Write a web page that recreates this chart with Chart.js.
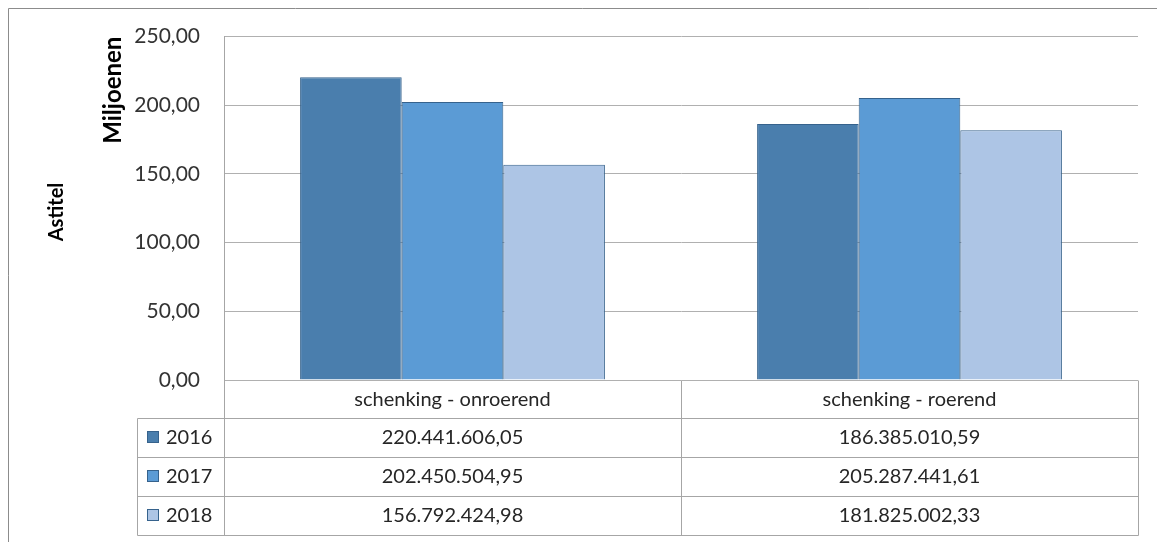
<!DOCTYPE html>
<html>
<head>
<meta charset="utf-8">
<script src="https://cdn.jsdelivr.net/npm/chart.js@4"></script>
<style>
html, body { margin: 0; padding: 0; background: #fff; }
#wrap { width: 1157px; height: 542px; }
</style>
</head>
<body>
<div id="wrap"><canvas id="barChart" width="1157" height="542"></canvas></div>
<script>
// Categorieën, jaren en bedragen (in euro)
let categories = ['schenking - onroerend', 'schenking - roerend'];
let years = ['2016', '2017', '2018'];
let values2016 = [220441606.05, 186385010.59];
let values2017 = [202450504.95, 205287441.61];
let values2018 = [156792424.98, 181825002.33];
let yTicks = [0, 50, 100, 150, 200, 250];

let seriesValues = [values2016, values2017, values2018];
let seriesColors = ['#4A7EAD', '#5B9BD5', '#ADC5E5'];
let barBorder = '#36628C';
let textColor = '#262626';

// Getal opmaken als 220.441.606,05
function formatNl(v, decimals) {
  let parts = v.toFixed(decimals).split('.');
  parts[0] = parts[0].replace(/\B(?=(\d{3})+(?!\d))/g, '.');
  return parts.join(',');
}

// Rand rondom de grafiek en de astitel links
let framePlugin = {
  id: 'frame',
  beforeDraw(chart) {
    let ctx = chart.ctx;
    ctx.save();
    ctx.strokeStyle = '#8c8c8c';
    ctx.lineWidth = 1;
    ctx.beginPath();
    ctx.moveTo(8.5, 542);
    ctx.lineTo(8.5, 8.5);
    ctx.lineTo(1157, 8.5);
    ctx.stroke();

    ctx.translate(57, 212);
    ctx.rotate(-Math.PI / 2);
    ctx.fillStyle = '#000';
    ctx.font = 'bold 20px Lato';
    ctx.textAlign = 'center';
    ctx.textBaseline = 'middle';
    ctx.fillText('Astitel', 0, 0);
    ctx.restore();
  }
};

// Gegevenstabel onder de x-as
let tablePlugin = {
  id: 'dataTable',
  afterDraw(chart) {
    let { ctx, chartArea, scales } = chart;
    let xs = scales.x;
    let left = chartArea.left, right = chartArea.right;
    let mid = (xs.getPixelForValue(0) + xs.getPixelForValue(1)) / 2;
    let colLeft = [left, mid];
    let colRight = [mid, right];
    let top = chartArea.bottom;
    let headerH = 37.5, rowH = 39;
    let legendLeft = 137;
    let bottom = top + headerH + rowH * years.length;
    let px = v => Math.round(v) + 0.5;

    ctx.save();
    ctx.strokeStyle = '#a6a6a6';
    ctx.lineWidth = 1;
    ctx.beginPath();
    for (let i = 0; i <= years.length; i++) {
      let y = px(top + headerH + i * rowH);
      ctx.moveTo(px(legendLeft), y);
      ctx.lineTo(px(right), y);
    }
    ctx.moveTo(px(legendLeft), px(top + headerH));
    ctx.lineTo(px(legendLeft), px(bottom));
    [left, mid, right].forEach(x => {
      ctx.moveTo(px(x), px(top));
      ctx.lineTo(px(x), px(bottom));
    });
    ctx.stroke();

    ctx.fillStyle = textColor;
    ctx.font = '20px Lato';
    ctx.textAlign = 'center';
    ctx.textBaseline = 'middle';
    categories.forEach((c, i) => {
      ctx.fillText(c, (colLeft[i] + colRight[i]) / 2, top + headerH / 2 + 1);
    });

    years.forEach((yr, r) => {
      let cy = top + headerH + rowH * r + rowH / 2;
      // legendasleutel
      ctx.fillStyle = seriesColors[r];
      ctx.fillRect(147, Math.round(cy) - 6, 12, 12);
      ctx.strokeStyle = barBorder;
      ctx.strokeRect(147.5, Math.round(cy) - 5.5, 11, 11);
      ctx.fillStyle = textColor;
      ctx.textAlign = 'left';
      ctx.fillText(yr, 166, cy + 1);
      ctx.textAlign = 'center';
      seriesValues[r].forEach((v, i) => {
        ctx.fillText(formatNl(v, 2), (colLeft[i] + colRight[i]) / 2, cy + 1);
      });
    });
    ctx.restore();
  }
};

let config = {
  type: 'bar',
  data: {
    labels: categories,
    datasets: years.map((yr, i) => ({
      label: yr,
      data: seriesValues[i].map(v => v / 1e6),
      backgroundColor: seriesColors[i],
      borderColor: barBorder,
      borderWidth: 1,
      barPercentage: 1,
      categoryPercentage: 0.667
    }))
  },
  options: {
    responsive: false,
    animation: false,
    layout: { padding: { left: 99, top: 36, right: 19, bottom: 162 } },
    plugins: { legend: { display: false }, tooltip: { enabled: false } },
    scales: {
      x: { display: false },
      y: {
        min: yTicks[0],
        max: yTicks[yTicks.length - 1],
        afterBuildTicks: scale => { scale.ticks = yTicks.map(v => ({ value: v })); },
        afterFit: scale => { scale.width = 125; },
        grid: { color: '#b0b0b0', drawTicks: false },
        border: { color: '#a6a6a6' },
        ticks: {
          padding: 24,
          color: '#333333',
          font: { family: 'Lato', size: 21 },
          callback: v => formatNl(v, 2)
        },
        title: {
          display: true,
          text: 'Miljoenen',
          align: 'end',
          color: '#000',
          padding: { top: 0, bottom: 0 },
          font: { family: 'Lato', size: 24, weight: 'bold' }
        }
      }
    }
  },
  plugins: [framePlugin, tablePlugin]
};

let ctx = document.getElementById('barChart').getContext('2d');
let barChart = new Chart(ctx, config);
</script>
</body>
</html>
